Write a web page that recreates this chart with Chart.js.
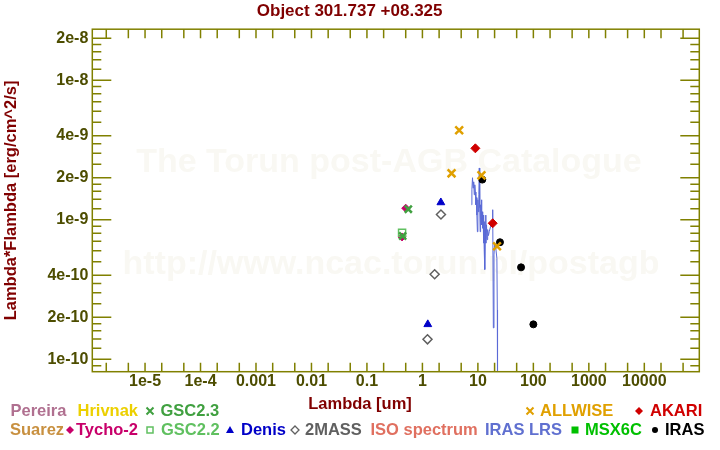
<!DOCTYPE html>
<html>
<head>
<meta charset="utf-8">
<title>Object 301.737 +08.325</title>
<script src="https://cdn.jsdelivr.net/npm/chart.js@4.4.0/dist/chart.umd.min.js"></script>
<style>
  html, body { margin:0; padding:0; background:#fff; }
  canvas { display:block; }
</style>
</head>
<body>
<canvas id="sed" width="720" height="450"></canvas>
<script>
// ====== photometry (lambda in um, lambda*F_lambda in erg/cm^2/s) ======
const allwiseLam  = [3.35, 4.6, 11.6, 22.1];
const allwiseFlux = [2.15e-9, 4.38e-9, 2.08e-9, 6.46e-10];
const akariLam    = [9.0, 18.5];
const akariFlux   = [3.25e-9, 9.44e-10];
const irasLam     = [12, 25, 60, 100];
const irasFlux    = [1.94e-9, 6.9e-10, 4.56e-10, 1.78e-10];
const denisLam    = [1.25, 2.15];
const denisFlux   = [1.78e-10, 1.33e-9];
const tmassLam    = [1.235, 1.662, 2.159];
const tmassFlux   = [1.39e-10, 4.07e-10, 1.09e-9];
const gsc23Lam    = [0.44, 0.557];
const gsc23Flux   = [7.65e-10, 1.19e-9];
const gsc22Lam    = [0.43];
const gsc22Flux   = [8.08e-10];
const tychoLam    = [0.43, 0.50];
const tychoFlux   = [7.53e-10, 1.21e-9];

// IRAS LRS spectrum
const lrsLam  = [7.7,7.8,8.0,8.2,8.4,8.6,8.8,9.0,9.2,9.4,
                 9.6,9.8,10.0,10.2,10.4,10.6,10.8,11.0,11.2,11.4,
                 11.6,11.8,12.0,12.2,12.4,12.6,12.8,13.0,13.2,13.4,
                 13.6,13.8,14.0,14.3,14.6,15.0,15.5,16.0,17.0,18.0,
                 18.5,19.0,19.5,20.0,21.0,22.0,22.4,22.6];
const lrsFlux = [1.28e-9,1.64e-9,2.0e-9,1.69e-9,1.87e-9,1.51e-9,1.78e-9,1.58e-9,1.28e-9,1.44e-9,
                 1.08e-9,8.2e-10,1.39e-9,1.14e-9,1.51e-9,2.35e-9,1.22e-9,8.2e-10,1.28e-9,1.03e-9,
                 1.39e-9,9.2e-10,1.14e-9,8.7e-10,1.08e-9,6.8e-10,1.03e-9,6.1e-10,9.7e-10,4.4e-10,
                 8.5e-10,1.08e-9,6.8e-10,9.2e-10,7.2e-10,8.5e-10,7.7e-10,8.2e-10,9.0e-10,9.7e-10,
                 1.18e-9,1.68e-10,5.6e-10,6.6e-10,6.3e-10,5.3e-10,2.26e-10,5e-11];

// tick labels
const xTickVals = [1e-5, 1e-4, 1e-3, 1e-2, 0.1, 1, 10, 100, 1000, 10000];
const xTickText = ['1e-5','1e-4','0.001','0.01','0.1','1','10','100','1000','10000'];
const yTickVals = [2e-8, 1e-8, 4e-9, 2e-9, 1e-9, 4e-10, 2e-10, 1e-10];
const yTickText = ['2e-8','1e-8','4e-9','2e-9','1e-9','4e-10','2e-10','1e-10'];

const watermark = ['The Torun post-AGB Catalogue', 'http://www.ncac.torun.pl/postagb'];

// ====== styling ======
const FONT = '"Liberation Sans", Arial, Helvetica, sans-serif';
const OLIVE = '#808000';
const TICKTXT = '#4d4d00';
const DARKRED = '#800000';

// legend: [text, colour, textX, row, marker, markerX]
const legendItems = [
  ['Pereira',      '#b07090', 10.5, 0, null, 0],
  ['Hrivnak',      '#ecd000', 77.5, 0, null, 0],
  ['GSC2.3',       '#40a040', 160.5, 0, 'x', 150],
  ['ALLWISE',      '#e0a000', 540, 0, 'x', 530],
  ['AKARI',        '#d00000', 650, 0, 'diamond', 639],
  ['Suarez',       '#c89040', 10, 1, null, 0],
  ['Tycho-2',      '#c8006a', 76, 1, 'diamond', 70],
  ['GSC2.2',       '#60c060', 161, 1, 'osquare', 150],
  ['Denis',        '#0000c8', 241, 1, 'triangle', 230],
  ['2MASS',        '#606060', 305, 1, 'odiamond', 295],
  ['ISO spectrum', '#e07060', 370.5, 1, null, 0],
  ['IRAS LRS',     '#6070d0', 485, 1, null, 0],
  ['MSX6C',        '#00c000', 585, 1, 'square', 575],
  ['IRAS',         '#000000', 665, 1, 'circle', 655]
];
const legendRowY = [411, 430];

const pts = (lam, flux) => lam.map((l, i) => ({ x:l, y:flux[i] }));

function legendMark(ctx, kind, x, y, color){
  const s = 3.5;
  ctx.save();
  ctx.fillStyle = color; ctx.strokeStyle = color; ctx.lineWidth = 2;
  ctx.beginPath();
  if(kind === 'x'){
    ctx.moveTo(x-s, y-s); ctx.lineTo(x+s, y+s);
    ctx.moveTo(x+s, y-s); ctx.lineTo(x-s, y+s);
    ctx.stroke();
  } else if(kind === 'diamond' || kind === 'odiamond'){
    ctx.moveTo(x, y-s-0.5); ctx.lineTo(x+s+0.5, y); ctx.lineTo(x, y+s+0.5); ctx.lineTo(x-s-0.5, y); ctx.closePath();
    if(kind === 'diamond') ctx.fill(); else { ctx.lineWidth = 1.3; ctx.stroke(); }
  } else if(kind === 'osquare'){
    ctx.lineWidth = 1.5; ctx.strokeRect(x-3, y-3, 6, 6);
  } else if(kind === 'square'){
    ctx.fillRect(x-3.5, y-3.5, 7, 7);
  } else if(kind === 'triangle'){
    ctx.moveTo(x, y-4); ctx.lineTo(x+4, y+3); ctx.lineTo(x-4, y+3); ctx.closePath(); ctx.fill();
  } else if(kind === 'circle'){
    ctx.arc(x, y, 3, 0, Math.PI*2); ctx.fill();
  }
  ctx.restore();
}

const decor = {
  id: 'decor',
  beforeDatasetsDraw(chart){
    const ctx = chart.ctx;
    ctx.save();
    ctx.fillStyle = '#f9f8f3';
    ctx.font = 'bold 34px ' + FONT;
    ctx.textAlign = 'center'; ctx.textBaseline = 'middle';
    ctx.fillText(watermark[0], 389, 163);
    ctx.fillText(watermark[1], 391, 265);
    ctx.restore();
  },
  afterDatasetsDraw(chart){
    const { ctx, chartArea:a, scales:{ x, y } } = chart;
    ctx.save();
    ctx.strokeStyle = OLIVE; ctx.lineWidth = 1.5;
    ctx.strokeRect(a.left, a.top, a.right - a.left, a.bottom - a.top);
    ctx.beginPath();
    // x ticks at 1,2,5 per decade, bottom and top
    for(let d = -7; d <= 5; d++){
      for(const m of [1, 2, 5]){
        const v = m * Math.pow(10, d);
        const px = x.getPixelForValue(v);
        if(px <= a.left + 1 || px >= a.right - 1) continue;
        ctx.moveTo(px, a.bottom); ctx.lineTo(px, a.bottom - 9);
        ctx.moveTo(px, a.top);    ctx.lineTo(px, a.top + 9);
      }
    }
    // y ticks, long where labelled
    for(let d = -11; d <= -8; d++){
      for(const m of [1,1.2,1.4,1.6,1.8,2,2.5,3,3.5,4,5,6,7,8,9]){
        const v = m * Math.pow(10, d);
        const py = y.getPixelForValue(v);
        if(py <= a.top + 1 || py >= a.bottom - 1) continue;
        const major = yTickVals.some(t => Math.abs(t - v) / t < 1e-6);
        const len = major ? 19 : 9;
        ctx.moveTo(a.left, py);  ctx.lineTo(a.left + len, py);
        ctx.moveTo(a.right, py); ctx.lineTo(a.right - len, py);
      }
    }
    ctx.stroke();
    ctx.restore();
  },
  afterDraw(chart){
    const ctx = chart.ctx;
    ctx.save();
    ctx.font = 'bold 16.5px ' + FONT;
    ctx.textBaseline = 'middle';
    // x axis title
    ctx.fillStyle = DARKRED; ctx.textAlign = 'center';
    ctx.fillText('Lambda [um]', 360, 404);
    // legend
    ctx.textAlign = 'left';
    for(const [text, color, tx, row, mk, mx] of legendItems){
      const yy = legendRowY[row];
      if(mk) legendMark(ctx, mk, mx, yy, color);
      ctx.fillStyle = color;
      ctx.fillText(text, tx, yy);
    }
    ctx.restore();
  }
};

new Chart(document.getElementById('sed').getContext('2d'), {
  type: 'scatter',
  data: {
    datasets: [
      { label:'ALLWISE', data:pts(allwiseLam, allwiseFlux), pointStyle:'crossRot', radius:5.5, borderWidth:2.5, borderColor:'#e0a000', backgroundColor:'#e0a000' },
      { label:'AKARI', data:pts(akariLam, akariFlux), pointStyle:'rectRot', radius:4.5, borderWidth:1, borderColor:'#d00000', backgroundColor:'#d00000' },
      { label:'IRAS', data:pts(irasLam, irasFlux), pointStyle:'circle', radius:3.5, borderWidth:1, borderColor:'#000', backgroundColor:'#000' },
      { label:'Denis', data:pts(denisLam, denisFlux), pointStyle:'triangle', radius:4.5, borderWidth:1, borderColor:'#0000c8', backgroundColor:'#0000c8' },
      { label:'2MASS', data:pts(tmassLam, tmassFlux), pointStyle:'rectRot', radius:4.5, borderWidth:1.5, borderColor:'#606060', backgroundColor:'#ffffff' },
      { label:'GSC2.3', data:pts(gsc23Lam, gsc23Flux), pointStyle:'crossRot', radius:5, borderWidth:2.5, borderColor:'#40a040', backgroundColor:'#40a040' },
      { label:'GSC2.2', data:pts(gsc22Lam, gsc22Flux), pointStyle:'rect', radius:5, borderWidth:1.5, borderColor:'#60c060', backgroundColor:'rgba(0,0,0,0)' },
      { label:'Tycho-2', data:pts(tychoLam, tychoFlux), pointStyle:'rectRot', radius:4, borderWidth:1, borderColor:'#c8006a', backgroundColor:'#c8006a' },
      { label:'IRAS LRS', data:pts(lrsLam, lrsFlux), showLine:true, radius:0, borderWidth:1, borderColor:'#5a6ad6', backgroundColor:'#5a6ad6' }
    ]
  },
  options: {
    responsive: false,
    animation: false,
    devicePixelRatio: 1,
    layout: { padding: { left:0, right:20.7, top:0, bottom:0 } },
    plugins: {
      legend: { display:false },
      tooltip: { enabled:false },
      title: {
        display: true, text: 'Object 301.737 +08.325', color: DARKRED,
        font: { family: FONT, size: 17, weight: 'bold' },
        padding: { top:1, bottom:7.8 }
      }
    },
    scales: {
      x: {
        type: 'logarithmic', min: 1.12e-6, max: 9.8e4,
        grid: { display:false, drawTicks:false },
        border: { display:false },
        afterBuildTicks: s => { s.ticks = xTickVals.map(v => ({ value:v })); },
        afterFit: s => { s.height = 78.3; },
        ticks: {
          autoSkip:false, maxRotation:0, padding:0, color:TICKTXT,
          font: { family: FONT, size: 16, weight: 'bold' },
          callback: (v, i) => xTickText[i]
        }
      },
      y: {
        type: 'logarithmic', min: 8.15e-11, max: 2.32e-8,
        grid: { display:false, drawTicks:false },
        border: { display:false },
        afterBuildTicks: s => { s.ticks = yTickVals.map(v => ({ value:v })); },
        afterFit: s => { s.width = 92.3; },
        ticks: {
          autoSkip:false, padding:4, color:TICKTXT,
          font: { family: FONT, size: 16, weight: 'bold' },
          callback: (v, i) => yTickText[i]
        },
        title: {
          display: true, text: 'Lambda*Flambda [erg/cm^2/s]', color: DARKRED,
          font: { family: FONT, size: 16.5, weight: 'bold' },
          padding: { top:1.5, bottom:0 }
        }
      }
    }
  },
  plugins: [decor]
});
</script>
</body>
</html>
